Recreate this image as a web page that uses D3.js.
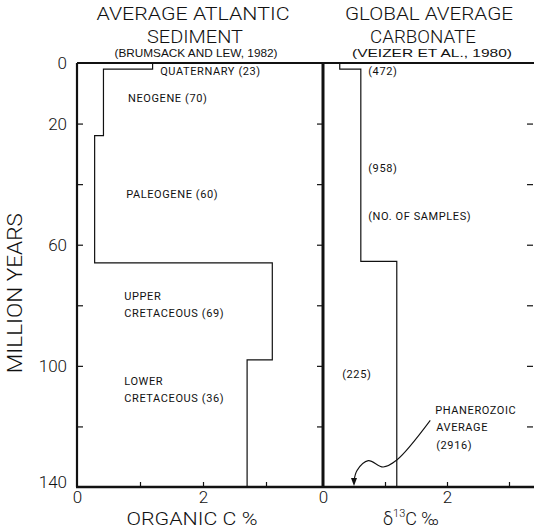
<!DOCTYPE html>
<html>
<head>
<meta charset="utf-8">
<script src="https://cdn.jsdelivr.net/npm/d3@7/dist/d3.min.js"></script>
<style>
  html, body { margin: 0; padding: 0; background: #fff; }
  svg { display: block; }
  text { font-family: Roboto, "Liberation Sans", Arial, sans-serif; fill: #111; }
  .big { font-weight: 300; }
  .small { font-family: "Liberation Sans", Arial, sans-serif; }
</style>
</head>
<body>
<svg id="chart" width="534" height="530"></svg>
<script>
// Average Atlantic sediment: organic carbon by geologic period
const sedimentPeriods = ["QUATERNARY (23)", "NEOGENE (70)", "PALEOGENE (60)", "UPPER|CRETACEOUS (69)", "LOWER|CRETACEOUS (36)"];
const sedimentTops    = [0, 2, 24, 66, 98];
const sedimentBottoms = [2, 24, 66, 98, 140];
const sedimentOrgC    = [1.2, 0.42, 0.28, 3.1, 2.7];
// label anchors (value %, age Ma)
const sedimentLabelX  = [1.32, 0.81, 0.78, 0.75, 0.75];
const sedimentLabelY  = [2.6, 11.6, 43.3, 77, 105];

// Global average carbonate: delta 13C by interval
const carbonateTops    = [0, 2, 65.5];
const carbonateBottoms = [2, 65.5, 140];
const carbonateD13C    = [0.27, 0.61, 1.19];
const carbonateCounts  = ["(472)", "(958)", "(225)"];
const carbonateLabelX  = [0.73, 0.73, 0.31];
const carbonateLabelY  = [2.6, 34.7, 102.7];
const phanerozoicAverage = 0.5;
const phanerozoicCount = "(2916)";

// axis ticks
const ageTicks = [0, 20, 40, 60, 80, 100, 120, 140];
const ageTickLabels = [0, 20, 60, 100, 140];
const valueTicks = [0, 1, 2, 3];
const valueTickLabels = [0, 2];

const svg = d3.select("#chart");

const y = d3.scaleLinear().domain([0, 140]).range([63, 487]);
const xL = d3.scaleLinear().domain([0, 2]).range([77, 203]);
const xR = d3.scaleLinear().domain([0, 2]).range([323, 447]);
const leftEnd = 323, rightEnd = 534;

// ---- panel titles: two-line heading plus citation ----
function heading(lines, citation) {
  lines.forEach(l => {
    svg.append("text").attr("class", "big").attr("text-anchor", "middle").attr("font-size", 19)
      .attr("x", l.x).attr("y", l.y)
      .attr("textLength", l.len).attr("lengthAdjust", "spacingAndGlyphs").text(l.text);
  });
  svg.append("text").attr("class", "small").attr("text-anchor", "middle").attr("font-size", 10.5)
    .attr("x", citation.x).attr("y", citation.y)
    .attr("textLength", citation.len).attr("lengthAdjust", "spacingAndGlyphs").text(citation.text);
}
heading([{ text: "AVERAGE ATLANTIC", x: 193, y: 20, len: 193 }, { text: "SEDIMENT", x: 195, y: 42.5, len: 96 }],
        { text: "(BRUMSACK AND LEW, 1982)", x: 196, y: 57, len: 163 });
heading([{ text: "GLOBAL AVERAGE", x: 429, y: 20, len: 168 }, { text: "CARBONATE", x: 423, y: 42.5, len: 106 }],
        { text: "(VEIZER ET AL., 1980)", x: 432, y: 57, len: 160 });

// ---- axes ----
function fmtAge(d) { return ageTickLabels.includes(d) ? d : ""; }
function fmtVal(d) { return valueTickLabels.includes(d) ? d : ""; }

const gAgeL = svg.append("g").attr("transform", `translate(${xL(0)},0)`)
  .call(d3.axisLeft(y).tickValues(ageTicks).tickSizeInner(-6).tickSizeOuter(0)
    .tickPadding(10).tickFormat(fmtAge));
const gAgeMid = svg.append("g").attr("transform", `translate(${leftEnd},0)`)
  .call(d3.axisRight(y).tickValues(ageTicks.slice(1, -1)).tickSizeInner(-6).tickSizeOuter(0).tickFormat(""));
const gAgeR = svg.append("g").attr("transform", `translate(${rightEnd - 1},0)`)
  .call(d3.axisRight(y).tickValues(ageTicks.slice(1, -1)).tickSizeInner(-6).tickSizeOuter(0).tickFormat(""));
const gValL = svg.append("g").attr("transform", `translate(0,${y(140)})`)
  .call(d3.axisBottom(xL).tickValues(valueTicks).tickSizeInner(-5).tickSizeOuter(0)
    .tickPadding(4).tickFormat(fmtVal));
const gValR = svg.append("g").attr("transform", `translate(0,${y(140)})`)
  .call(d3.axisBottom(xR).tickValues(valueTicks).tickSizeInner(-5).tickSizeOuter(0)
    .tickPadding(4).tickFormat(fmtVal));

[gAgeL, gAgeMid, gAgeR, gValL, gValR].forEach(g => {
  g.select(".domain").remove();
  g.selectAll("line").attr("stroke", "#111").attr("stroke-width", 1.2);
  g.selectAll("text").attr("class", "big").attr("font-family", null)
    .attr("font-size", 17).attr("fill", "#111");
});
gValL.selectAll(".tick").filter(d => d === 0).select("line").remove();
gValR.selectAll(".tick").filter(d => d === 0).select("line").remove();
gAgeL.selectAll(".tick").filter(d => d === 0 || d === 140).select("line").remove();
// the bottom age label sits a little above its tick
gAgeL.selectAll(".tick text").filter(d => d === 140).attr("dy", "0.05em");

// ---- frame ----
const frame = svg.append("g").attr("stroke", "#111").attr("fill", "none");
frame.append("line").attr("x1", xL(0)).attr("x2", rightEnd).attr("y1", y(0)).attr("y2", y(0)).attr("stroke-width", 2.2);
frame.append("line").attr("x1", xL(0) - 1).attr("x2", rightEnd).attr("y1", y(140)).attr("y2", y(140)).attr("stroke-width", 2.6);
frame.append("line").attr("x1", xL(0)).attr("x2", xL(0)).attr("y1", y(0)).attr("y2", y(140)).attr("stroke-width", 2.2);
frame.append("line").attr("x1", xR(0)).attr("x2", xR(0)).attr("y1", y(0)).attr("y2", y(140)).attr("stroke-width", 3);

// ---- step profiles ----
function stepPoints(tops, bottoms, vals) {
  const pts = [];
  vals.forEach((v, i) => { pts.push([v, tops[i]]); pts.push([v, bottoms[i]]); });
  return pts;
}
svg.append("path")
  .attr("d", d3.line().x(d => xL(d[0])).y(d => y(d[1]))(stepPoints(sedimentTops, sedimentBottoms, sedimentOrgC)))
  .attr("fill", "none").attr("stroke", "#111").attr("stroke-width", 1.2);
svg.append("path")
  .attr("d", d3.line().x(d => xR(d[0])).y(d => y(d[1]))(stepPoints(carbonateTops, carbonateBottoms, carbonateD13C)))
  .attr("fill", "none").attr("stroke", "#111").attr("stroke-width", 1.2);

// ---- period labels ----
const small = svg.append("g").attr("class", "small").attr("font-size", 11).attr("letter-spacing", 0.6);
sedimentPeriods.forEach((p, i) => {
  const lines = p.split("|");
  lines.forEach((ln, j) => {
    small.append("text").attr("x", xL(sedimentLabelX[i])).attr("y", y(sedimentLabelY[i]) + j * 17)
      .attr("dy", "0.35em").text(ln);
  });
});
carbonateCounts.forEach((c, i) => {
  small.append("text").attr("x", xR(carbonateLabelX[i])).attr("y", y(carbonateLabelY[i]))
    .attr("dy", "0.35em").text(c);
});
small.append("text").attr("x", xR(0.73)).attr("y", y(50.5)).attr("dy", "0.35em").text("(NO. OF SAMPLES)");
["PHANEROZOIC", "AVERAGE", phanerozoicCount].forEach((t, j) => {
  small.append("text").attr("x", xR(1.81) + (j ? 1 : 0)).attr("y", y(114.6) + j * 17.5)
    .attr("dy", "0.35em").text(t);
});

// ---- leader to phanerozoic average ----
const leader = [[1.73, 118], [1.19, 131.1], [0.97, 133.4], [0.73, 131.3], [0.55, 134.5], [phanerozoicAverage, 138]];
svg.append("path")
  .attr("d", d3.line().x(d => xR(d[0])).y(d => y(d[1])).curve(d3.curveCatmullRom.alpha(0.5))(leader))
  .attr("fill", "none").attr("stroke", "#111").attr("stroke-width", 1.1);
const tipX = xR(phanerozoicAverage), tipY = y(140) - 1;
svg.append("path")
  .attr("d", `M${tipX},${tipY} L${tipX - 3},${tipY - 8} L${tipX + 3},${tipY - 8} Z`)
  .attr("fill", "#111");

// ---- axis titles ----
svg.append("text").attr("class", "big").attr("transform", `translate(22,${y(76)}) rotate(-90)`)
  .attr("text-anchor", "middle").attr("font-size", 21)
  .attr("textLength", 160).attr("lengthAdjust", "spacingAndGlyphs").text("MILLION YEARS");
svg.append("text").attr("class", "big").attr("x", 192).attr("y", 525).attr("text-anchor", "middle").attr("font-size", 18)
  .attr("textLength", 131).attr("lengthAdjust", "spacingAndGlyphs").text("ORGANIC  C %");
const d13 = svg.append("text").attr("class", "big").attr("x", 383).attr("y", 525).attr("font-size", 18);
d13.append("tspan").text("δ");
d13.append("tspan").attr("font-size", 11).attr("dy", -8).text("13");
d13.append("tspan").attr("dy", 8).text("C ‰");
</script>
</body>
</html>
